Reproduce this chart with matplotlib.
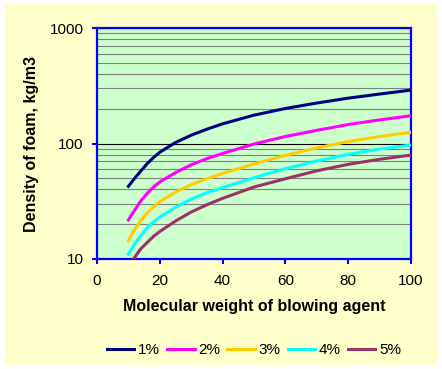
import numpy as np
import matplotlib
matplotlib.use('Agg')
import matplotlib.pyplot as plt
from matplotlib.patches import Rectangle

plt.rcParams['font.family'] = ['Liberation Sans', 'DejaVu Sans']

# molecular weight of blowing agent
mw = [10, 12, 14, 16, 18, 20, 25, 30, 35, 40, 50, 60, 70, 80, 90, 100]
mw5 = [11.6, 14, 16, 18, 20, 25, 30, 35, 40, 50, 60, 70, 80, 90, 100]

# density of foam, kg/m3
d1 = [42.6, 50, 58, 67, 75.5, 84, 102, 118, 133, 148, 176, 201, 224, 247, 268, 290]
d2 = [21.8, 26.5, 32, 37, 42, 46.5, 56, 65.5, 74, 82, 99, 115, 130, 146, 160, 174]
d3 = [14.4, 18, 21.5, 25, 28.3, 31.3, 38, 44, 49.5, 55, 66.5, 79, 91.5, 104, 115, 125]
d4 = [11, 13.5, 16, 18.6, 21, 23, 28, 33, 37.5, 41.5, 50.5, 60.5, 70.5, 80.5, 89.5, 97]
d5 = [10, 12.3, 13.9, 15.7, 17.3, 21.3, 25.5, 29.5, 33.5, 42, 49.5, 58, 66, 73, 79.4]

labels = ['1%', '2%', '3%', '4%', '5%']
colors = ['#000080', '#FF00FF', '#FFCC00', '#00FFFF', '#993366']

fig = plt.figure(figsize=(4.42, 3.69), dpi=100, facecolor='white')
fig.patches.append(Rectangle((5/442, 4/369), 432/442, 361/369, transform=fig.transFigure,
                             facecolor='#FFFFCC', edgecolor='none', zorder=-10))

ax = fig.add_axes([97/442, 110/369, 314/442, 231/369])
ax.set_facecolor('#CCFFCC')

series = [(mw, d1), (mw, d2), (mw, d3), (mw, d4), (mw5, d5)]
for (x, y), lab, c in zip(series, labels, colors):
    ax.plot(x, y, color=c, lw=2.2, label=lab, zorder=3)

ax.set_yscale('log')
ax.set_ylim(10, 1000)
ax.set_xlim(0, 100)
ax.set_xticks(range(0, 101, 20))
ax.set_yticks([10, 100, 1000])
ax.set_yticklabels(['10', '100', '1000'])
ax.yaxis.set_minor_locator(matplotlib.ticker.LogLocator(base=10, subs=np.arange(2, 10)))
ax.yaxis.set_minor_formatter(matplotlib.ticker.NullFormatter())
ax.grid(which='major', axis='y', color='black', lw=0.8)
ax.grid(which='minor', axis='y', color='#808080', lw=0.8)
ax.tick_params(which='minor', length=0)
ax.tick_params(which='major', direction='out', length=3.6, width=1.5, color='#0000FF',
               labelsize=11)
ax.tick_params(axis='x', pad=7)
ax.tick_params(axis='y', pad=6)

for s in ax.spines.values():
    s.set_color('#0000FF')
    s.set_linewidth(1.6)

ax.set_xlabel('Molecular weight of blowing agent', fontsize=11.5, fontweight='bold', labelpad=8)
ax.set_ylabel('Density of foam, kg/m3', fontsize=11.5, fontweight='bold', labelpad=8)

ax.legend(loc='center', bbox_to_anchor=(0.5, -0.395), ncol=5, frameon=False,
          fontsize=11, handlelength=1.8, handletextpad=0.25, columnspacing=0.45)

fig.savefig('out.png', dpi=100, facecolor=fig.get_facecolor())
